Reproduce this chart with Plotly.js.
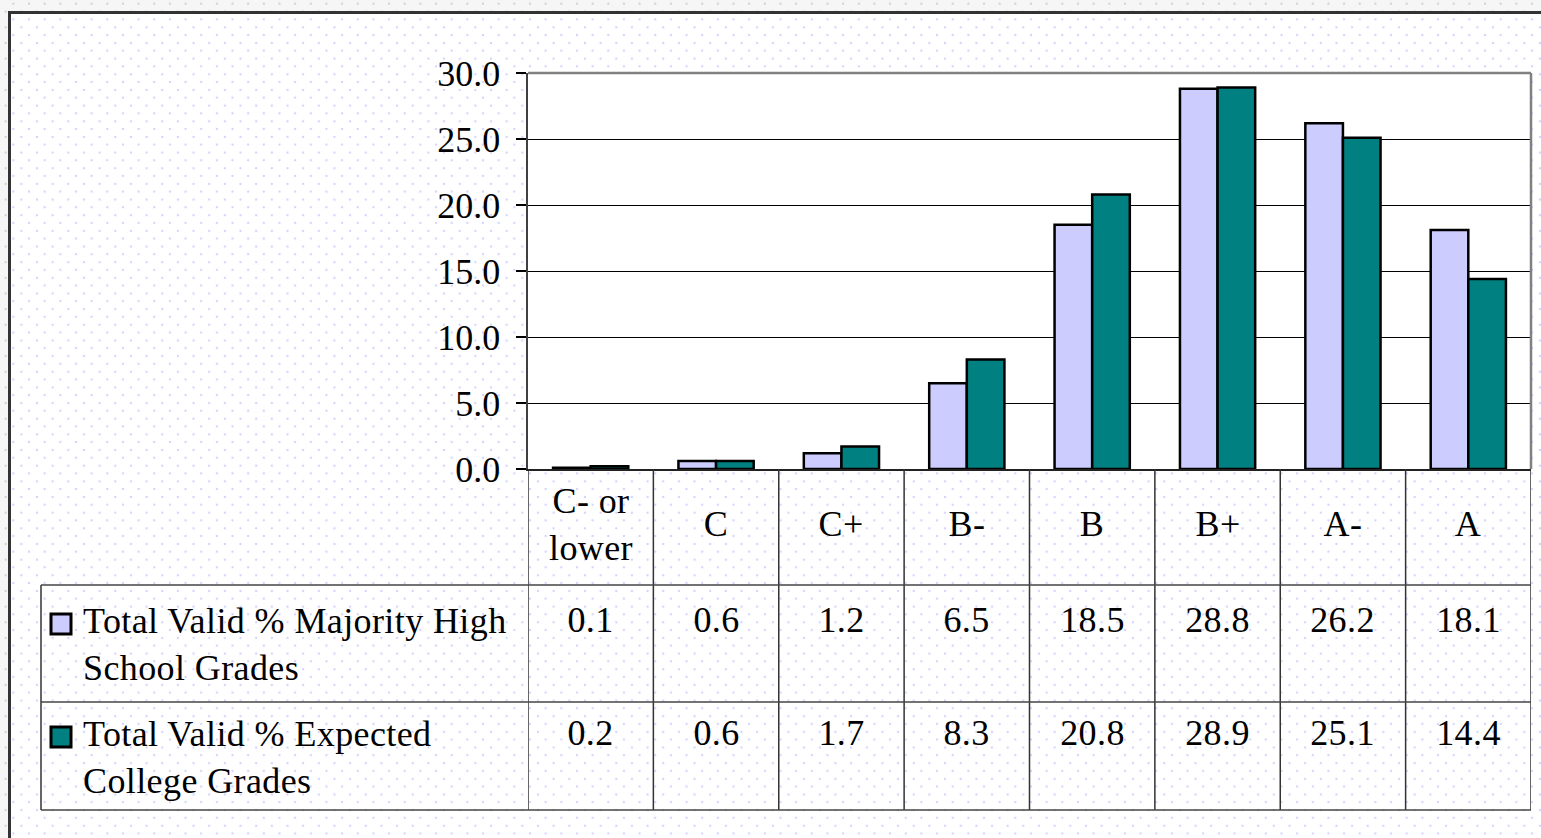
<!DOCTYPE html>
<html>
<head>
<meta charset="utf-8">
<script src="https://cdn.plot.ly/plotly-3.0.1.min.js"></script>
<style>
  html, body { margin: 0; padding: 0; width: 1541px; height: 838px; overflow: hidden; }
  body {
    background-color: #f6f6f6;
    background-image:
      radial-gradient(circle, #d2d2d2 0.9px, rgba(0,0,0,0) 1.6px),
      radial-gradient(circle, #d2d2d2 0.9px, rgba(0,0,0,0) 1.6px);
    background-size: 15.67px 15.67px, 15.67px 15.67px;
    background-position: 5.5px 11.5px, 13.5px 19.5px;
    background-attachment: fixed, fixed;
  }
  #frame {
    position: absolute; left: 8px; top: 11px; width: 1600px; height: 900px;
    border-left: 3px solid #333; border-top: 3px solid #333;
    background-color: #ffffff;
    background-image:
      radial-gradient(circle, #d4d4ff 0.9px, rgba(255,255,255,0) 1.6px),
      radial-gradient(circle, #d4d4ff 0.9px, rgba(255,255,255,0) 1.6px);
    background-size: 15.67px 15.67px, 15.67px 15.67px;
    background-position: 5.5px 11.5px, 13.5px 19.5px;
    background-attachment: fixed, fixed;
  }
  #chart { position: absolute; left: 0; top: 0; width: 1541px; height: 838px; }
  #chart .annotation-text { letter-spacing: 0.4px; }
</style>
</head>
<body>
<div id="frame"></div>
<div id="chart"></div>
<script>
// ---- data ----
const categories = ['C- or<br>lower', 'C', 'C+', 'B-', 'B', 'B+', 'A-', 'A'];
const seriesNames = ['Total Valid % Majority High<br>School Grades', 'Total Valid % Expected<br>College Grades'];
const highSchoolGrades = [0.1, 0.6, 1.2, 6.5, 18.5, 28.8, 26.2, 18.1];
const collegeGrades = [0.2, 0.6, 1.7, 8.3, 20.8, 28.9, 25.1, 14.4];
const yTickValues = [0, 5, 10, 15, 20, 25, 30];
const seriesColors = ['#CCCCFF', '#008080'];

// ---- layout helpers (pixel -> paper) ----
const W = 1541, H = 838;
const px = v => v / W;
const py = v => 1 - v / H;
const FONT = 'Liberation Serif, Times New Roman, serif';
const FS = 36;

const plotLeft = 528, plotRight = 1531, plotTop = 73, plotBottom = 469;
const headerBottom = 585, row1Bottom = 702, row2Bottom = 810, tableLeft = 41;

const seriesValues = [highSchoolGrades, collegeGrades];

const traces = seriesValues.map((vals, s) => ({
  type: 'bar',
  x: categories,
  y: vals,
  name: seriesNames[s],
  marker: { color: seriesColors[s], line: { color: '#000000', width: 2.5 } },
  showlegend: false,
  hoverinfo: 'skip'
}));

const shapes = [];
const annotations = [];

// plot area top & right border (gray)
shapes.push({ type: 'line', xref: 'x domain', yref: 'y domain', x0: 0, x1: 1, y0: 1, y1: 1,
  line: { color: '#808080', width: 2.5 } });
shapes.push({ type: 'line', xref: 'x domain', yref: 'y domain', x0: 1, x1: 1, y0: 0, y1: 1,
  line: { color: '#808080', width: 2.5 } });

// table vertical dividers at category boundaries
for (let i = 0; i <= categories.length; i++) {
  shapes.push({ type: 'line', xref: 'x', yref: 'paper', x0: i - 0.5, x1: i - 0.5,
    y0: py(plotBottom), y1: py(row2Bottom), line: { color: '#333333', width: 1.5 } });
}
// table left edge
shapes.push({ type: 'line', xref: 'paper', yref: 'paper', x0: px(tableLeft), x1: px(tableLeft),
  y0: py(headerBottom), y1: py(row2Bottom), line: { color: '#333333', width: 1.5 } });
// table horizontal lines
[headerBottom, row1Bottom, row2Bottom].forEach(yy => {
  shapes.push({ type: 'line', xref: 'paper', yref: 'paper', x0: px(tableLeft), x1: px(plotRight),
    y0: py(yy), y1: py(yy), line: { color: '#444444', width: 1.5 } });
});

// category header labels
categories.forEach((c, i) => {
  annotations.push({ xref: 'x', yref: 'paper', x: i, y: py(524), text: c, showarrow: false,
    xanchor: 'center', yanchor: 'middle', align: 'center',
    font: { family: FONT, size: FS, color: '#000' } });
});

// legend keys + names + values per row
const rowCenters = [620, 733];
seriesValues.forEach((vals, s) => {
  const cy = rowCenters[s];
  shapes.push({ type: 'rect', xref: 'paper', yref: 'paper',
    x0: px(51), x1: px(71), y0: py(cy - 10 + 4), y1: py(cy + 10 + 4),
    fillcolor: seriesColors[s], line: { color: '#000000', width: 3 } });
  annotations.push({ xref: 'paper', yref: 'paper', x: px(81), y: py(cy + 24), text: seriesNames[s],
    showarrow: false, xanchor: 'left', yanchor: 'middle', align: 'left',
    font: { family: FONT, size: FS, color: '#000' } });
  vals.forEach((v, i) => {
    annotations.push({ xref: 'x', yref: 'paper', x: i, y: py(cy), text: v.toFixed(1),
      showarrow: false, xanchor: 'center', yanchor: 'middle',
      font: { family: FONT, size: FS, color: '#000' } });
  });
});

const layout = {
  width: W, height: H,
  margin: { l: 0, r: 0, t: 0, b: 0, pad: 0 },
  paper_bgcolor: 'rgba(0,0,0,0)',
  plot_bgcolor: '#ffffff',
  barmode: 'group',
  bargap: 0.4,
  bargroupgap: 0,
  showlegend: false,
  xaxis: {
    domain: [px(plotLeft), px(plotRight)],
    type: 'category',
    range: [-0.5, categories.length - 0.5],
    showticklabels: false, ticks: '',
    showgrid: false, zeroline: false,
    showline: true, linecolor: '#222222', linewidth: 2
  },
  yaxis: {
    domain: [py(plotBottom), py(plotTop)],
    range: [0, 30],
    tickmode: 'array', tickvals: yTickValues,
    ticktext: yTickValues.map(v => v.toFixed(1)),
    ticks: 'outside', ticklen: 10, tickwidth: 1.5, tickcolor: '#000',
    ticklabelstandoff: 8,
    tickfont: { family: FONT, size: FS, color: '#000' },
    showgrid: true, gridcolor: '#000000', gridwidth: 1,
    zeroline: false,
    showline: true, linecolor: '#404040', linewidth: 2.5
  },
  shapes: shapes,
  annotations: annotations
};

Plotly.newPlot('chart', traces, layout, { staticPlot: true, displayModeBar: false });
</script>
</body>
</html>
